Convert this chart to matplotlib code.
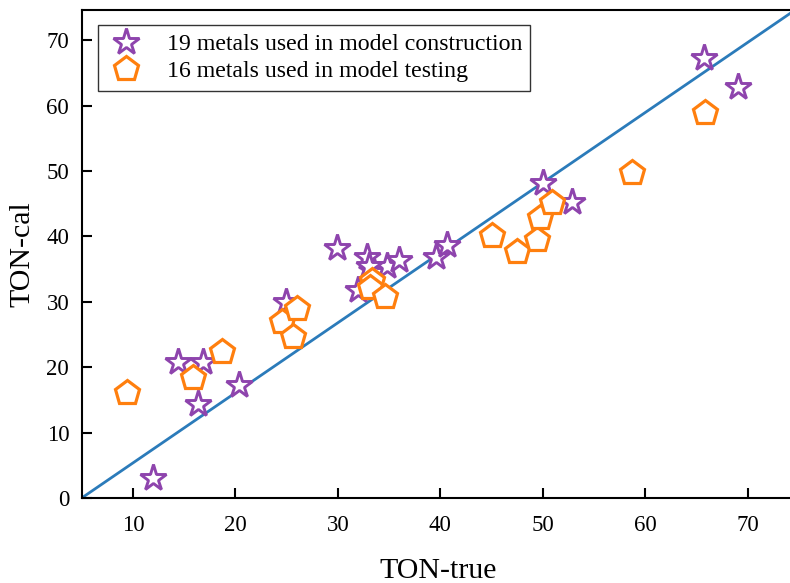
import matplotlib
matplotlib.use("Agg")
import matplotlib.pyplot as plt

plt.rcParams['font.family'] = ['Liberation Serif', 'DejaVu Serif']

# construction metals (stars)
train_true = [12.0, 14.4, 16.8, 16.3, 20.3, 24.9, 29.9, 32.0, 32.8, 33.5,
              34.8, 36.0, 39.6, 40.6, 50.0, 52.8, 65.7, 69.0, 33.0]
train_cal = [3.1, 20.8, 20.8, 14.4, 17.3, 30.0, 38.2, 31.8, 36.9, 34.5,
             35.4, 36.4, 36.9, 38.7, 48.1, 45.3, 67.3, 62.8, 35.5]

# testing metals (pentagons)
test_true = [9.4, 15.9, 18.7, 24.5, 26.0, 25.6, 33.3, 33.1, 34.6,
             45.0, 47.5, 49.4, 49.7, 50.9, 58.7, 65.8]
test_cal = [16.1, 18.3, 22.3, 26.9, 28.9, 24.6, 33.1, 32.1, 30.8,
            40.1, 37.6, 39.4, 42.8, 45.1, 49.7, 58.9]

xlim = (5, 74.6)
ylim = (0, 74.6)
xticks = [10, 20, 30, 40, 50, 60, 70]
yticks = [0, 10, 20, 30, 40, 50, 60, 70]

fig = plt.figure(figsize=(7.9, 5.83), dpi=100)
ax = fig.add_axes([0.1034, 0.1458, 0.903, 0.837])

ax.plot([0, 1], [0, 1], transform=ax.transAxes, color='#2b7bba', lw=2, zorder=1)

ax.plot(train_true, train_cal, linestyle='none', marker='*', markersize=20,
        markerfacecolor='white', markeredgecolor='#8e44ad', markeredgewidth=2.1,
        label='19 metals used in model construction', zorder=2)
ax.plot(test_true, test_cal, linestyle='none', marker='p', markersize=18.5,
        markerfacecolor='white', markeredgecolor='#ff7f0e', markeredgewidth=2.3,
        label='16 metals used in model testing', zorder=3)

ax.set_xlim(*xlim)
ax.set_ylim(*ylim)
ax.set_xticks(xticks)
ax.set_yticks(yticks)
ax.tick_params(direction='in', length=7, width=1.5, labelsize=16.5)
ax.tick_params(axis='x', pad=12)
ax.tick_params(axis='y', pad=9)
ax.spines['right'].set_visible(False)
for s in ['left', 'top', 'bottom']:
    ax.spines[s].set_linewidth(1.5)

ax.set_xlabel('TON-true', fontsize=21.5, labelpad=16)
ax.set_ylabel('TON-cal', fontsize=21.5, labelpad=8)

leg = ax.legend(loc='upper left', bbox_to_anchor=(0.0235, 0.9685), fontsize=17.2,
                frameon=True, fancybox=False, edgecolor='black',
                handletextpad=0.9, borderpad=0.35, labelspacing=0.22,
                handlelength=1.6, borderaxespad=0)
leg.get_frame().set_linewidth(1.0)

fig.savefig('out.png', dpi=100)
